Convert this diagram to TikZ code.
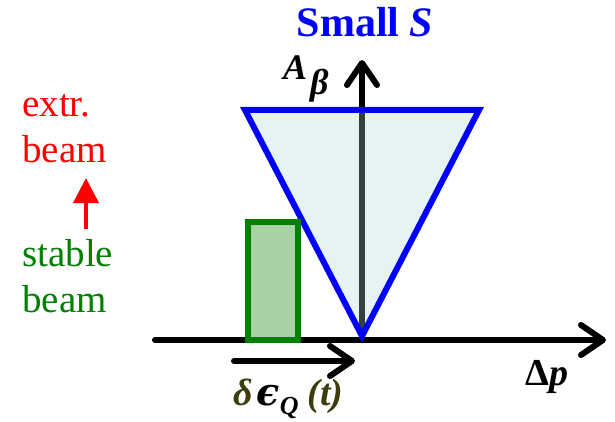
\documentclass[tikz,border=0pt]{standalone}
\usepackage{fontspec}
\setmainfont{Liberation Serif}
\newfontfamily\greekfont{DejaVu Serif}
\usetikzlibrary{arrows.meta}
\definecolor{triblue}{RGB}{0,0,255}
\definecolor{trifill}{RGB}{170,215,215}
\definecolor{boxgreen}{RGB}{0,128,0}
\definecolor{boxfill}{RGB}{168,210,165}
\definecolor{darkolive}{RGB}{60,60,15}
\begin{document}
\begin{tikzpicture}[x=1pt,y=-1pt,
    axis/.style={line width=6pt, line cap=round, -{Straight Barb[length=22pt,width=30pt,round]}},
    big/.style={inner sep=0pt, font=\fontsize{39}{46}\selectfont}]
    \useasboundingbox (0,0) rectangle (615,422);
    \coordinate (o) at (362,340);
    \coordinate (xs) at (155,340);
    \coordinate (xe) at (606,340);
    \coordinate (ye) at (362,60);
    \draw[axis] (xs) -- (xe);
    \draw[axis] (o) -- (ye);
    \filldraw[draw=triblue, fill=trifill, fill opacity=0.3, line width=6pt] (245,110) -- (479,110) -- (362,336) -- cycle;
    \node[draw=boxgreen, fill=boxfill, line width=6pt, minimum width=50pt, minimum height=118pt, inner sep=0pt] (stab) at (273,281) {};
    \coordinate (ds) at (234,361);
    \coordinate (de) at (355,361);
    \draw[axis] (ds) -- (de);
    \node[big, anchor=base, text=triblue, font=\fontsize{42}{48}\selectfont\bfseries] (small) at (365,37) {Small \textit{S}};
    \node[big, anchor=base west, font=\fontsize{36}{40}\selectfont\bfseries\itshape] (amp) at (283,80) {A\kern3pt\raisebox{-15pt}{β}};
    \node[big, anchor=base west, font=\fontsize{38}{40}\selectfont\bfseries] (dp) at (525,385) {Δ\textit{p}};
    \node[big, anchor=base west, font=\fontsize{38}{40}\selectfont\bfseries\itshape] (eps) at (233,405) {\textcolor{darkolive}{δ}\kern4pt{\greekfont ϵ}\raisebox{-9pt}{\fontsize{26}{30}\selectfont Q}\kern9pt\textcolor{darkolive}{(t)}};
    \node[big, anchor=base west, align=left, text=red] (extr) at (22,163) {extr.\\beam};
    \node[big, anchor=base west, align=left, text=boxgreen] (stable) at (22,312) {stable\\beam};
    \draw[red, line width=3.5pt, -{Triangle[length=25pt,width=25pt]}] (86,229) -- (86,178);
\end{tikzpicture}
\end{document}
